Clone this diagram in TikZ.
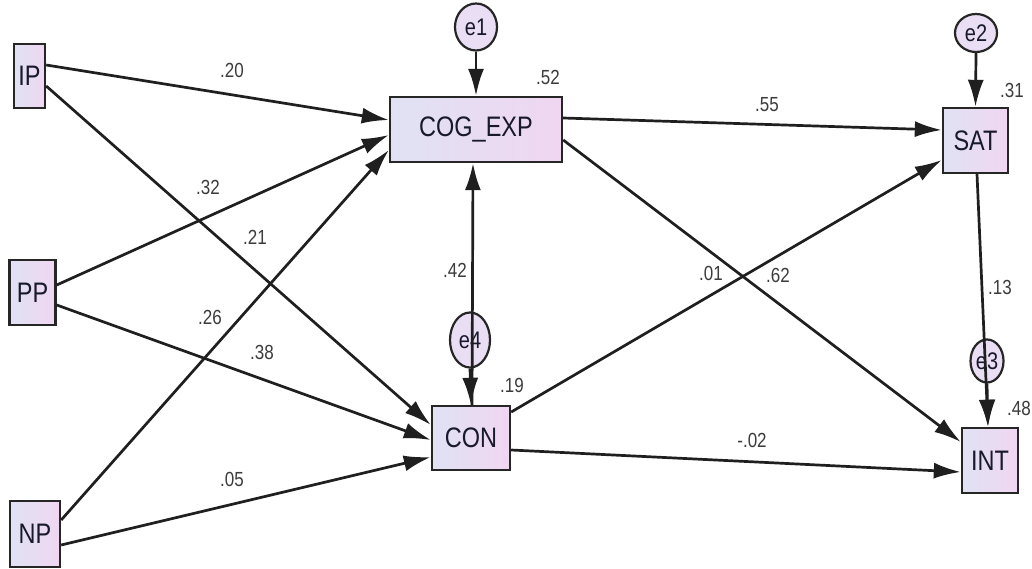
\documentclass[tikz,border=0pt]{standalone}
\usepackage{fontspec}
\setmainfont{Liberation Sans}
\usetikzlibrary{arrows.meta,shapes.geometric,calc}
\definecolor{boxL}{RGB}{224,226,243}
\definecolor{boxR}{RGB}{240,214,242}
\definecolor{errF}{RGB}{234,222,244}
\definecolor{txtC}{RGB}{25,25,45}
\definecolor{coefC}{RGB}{60,60,60}
\newcommand\strtxt[1]{\scalebox{1}[1.2]{#1}}
\begin{document}
\begin{tikzpicture}[x=1pt,y=-1pt,
  var/.style={draw=black!85, line width=2.4pt, left color=boxL, right color=boxR, inner sep=0pt, font=\fontsize{23.5}{23.5}\selectfont, text=txtC},
  err/.style={ellipse, draw=black!85, line width=2.2pt, fill=errF, inner sep=0pt, font=\fontsize{20}{20}\selectfont, text=txtC},
  arr/.style={line width=2.7pt, draw=black!88, -{Latex[length=27pt,width=16pt]}},
  coef/.style={font=\fontsize{17}{17}\selectfont, text=coefC, inner sep=0pt}]
\useasboundingbox (0,0) rectangle (1032,569);
\fill[white] (0,0) rectangle (1032,569);

% observed variables
\node[var, minimum width=31pt, minimum height=64pt] (IP) at (29.5,76) {\strtxt{IP}};
\node[var, minimum width=46pt, minimum height=65pt] (PP) at (32.5,292.5) {\strtxt{PP}};
\node[var, minimum width=50pt, minimum height=66pt] (NP) at (35,534) {\strtxt{NP}};
\node[var, minimum width=172pt, minimum height=65pt] (COG) at (476,129.5) {\strtxt{COG\_EXP}};
\node[var, minimum width=78pt, minimum height=64pt] (CON) at (471,438) {\strtxt{CON}};
\node[var, minimum width=65pt, minimum height=65pt] (SAT) at (975.5,140.5) {\strtxt{SAT}};
\node[var, minimum width=56pt, minimum height=65pt] (INT) at (990,460.5) {\strtxt{INT}};

% error terms
\node[err, minimum width=42pt, minimum height=47pt] (e1) at (476,27) {\strtxt{e1}};
\node[err, minimum width=42pt, minimum height=38pt] (e2) at (976,33) {\strtxt{e2}};
\node[err, minimum width=33pt, minimum height=43pt] (e3) at (987,361) {\strtxt{e3}};
\node[err, minimum width=40pt, minimum height=55pt] (e4) at (470,340) {\strtxt{e4}};

% paths
\draw[arr] ($(IP.east)+(0,-11)$) -- ($(COG.west)+(0,-9.5)$);
\draw[arr] ($(IP.east)+(0,10)$) -- ($(CON.west)+(0,-13)$);
\draw[arr] ($(PP.east)+(0,-7.5)$) -- ($(COG.west)+(0,5.5)$);
\draw[arr] ($(PP.east)+(0,12.5)$) -- ($(CON.west)+(0,2)$);
\draw[arr] ($(NP.east)+(0,-14)$) -- ($(COG.west)+(0,20.5)$);
\draw[arr] ($(NP.east)+(0,11)$) -- ($(CON.west)+(0,19)$);
\draw[arr] ($(COG.east)+(0,-11.5)$) -- ($(SAT.west)+(0,-10.5)$);
\draw[arr] ($(COG.east)+(0,10.5)$) -- ($(INT.west)+(0,-18.5)$);
\draw[arr] ($(CON.east)+(0,-26)$) -- ($(SAT.west)+(0,19.5)$);
\draw[arr] ($(CON.east)+(0,12)$) -- ($(INT.west)+(0,11.5)$);
\draw[arr] ($(SAT.south)+(1.5,0)$) -- ($(INT.north)+(-2,0)$);
\draw[arr] ($(CON.north)+(1,0)$) -- ($(COG.south)+(-3,0)$);

\draw[arr] (e1.south) -- (COG.north);
\draw[arr] (e2.south) -- (SAT.north);
\draw[arr] (e3.south) -- ($(INT.north)+(-2,0)$);
\draw[arr] (e4.south) -- (CON.north);

% coefficients
\node[coef] (r52) at (548,77) {\strtxt{.52}};
\node[coef] (r19) at (512,385) {\strtxt{.19}};
\node[coef] (r31) at (1012,90) {\strtxt{.31}};
\node[coef, anchor=east] (r48) at (1031,408) {\strtxt{.48}};
\node[coef] (c20) at (232,70) {\strtxt{.20}};
\node[coef] (c21) at (255,237) {\strtxt{.21}};
\node[coef] (c32) at (208,187) {\strtxt{.32}};
\node[coef] (c38) at (262,352) {\strtxt{.38}};
\node[coef] (c26) at (210,317) {\strtxt{.26}};
\node[coef] (c05) at (232,479) {\strtxt{.05}};
\node[coef] (c42) at (455,270) {\strtxt{.42}};
\node[coef] (c55) at (767,105) {\strtxt{.55}};
\node[coef] (c62) at (778,275) {\strtxt{.62}};
\node[coef] (c01) at (711,273) {\strtxt{.01}};
\node[coef] (c02) at (752,440) {\strtxt{-.02}};
\node[coef] (c13) at (1000,287) {\strtxt{.13}};
\end{tikzpicture}
\end{document}
